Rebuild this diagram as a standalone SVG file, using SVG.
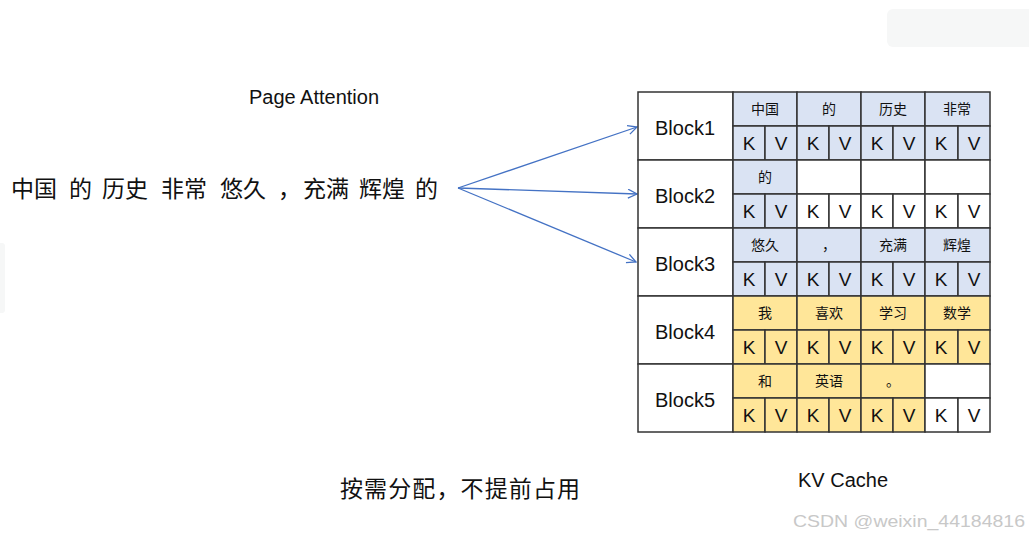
<svg xmlns="http://www.w3.org/2000/svg" width="1029" height="539" viewBox="0 0 1029 539">
<style>
.t{font-family:"Liberation Sans","Noto Sans CJK SC",sans-serif;fill:#111}
.cn{font-family:"Noto Sans CJK SC",sans-serif;fill:#111}
.c{stroke:#333;stroke-width:1.5}
.b{fill:#dae3f3}
.y{fill:#ffe699}
.w{fill:#fff}
.lbl{font-size:20px;text-anchor:middle}
.tok{font-size:14px;text-anchor:middle}
.kv{font-size:19px;text-anchor:middle}
.ar{fill:none;stroke:#4472c4;stroke-width:1.3}
</style>
<defs>
<marker id="ah" markerWidth="12" markerHeight="12" refX="10" refY="5" orient="auto" markerUnits="userSpaceOnUse">
<path d="M1,0.5 L10,5 L1,9.5" fill="none" stroke="#4472c4" stroke-width="1.3"/>
</marker>
</defs>
<rect width="1029" height="539" fill="#fff"/>
<rect x="887" y="9" width="150" height="38" rx="6" fill="#f6f7f7"/>
<rect x="-6" y="243" width="11" height="70" rx="3" fill="#f6f7f7"/>

<text class="t" x="314" y="104" font-size="20" text-anchor="middle">Page Attention</text>
<text class="cn" y="197" font-size="23"><tspan x="11">中国</tspan><tspan x="69">的</tspan><tspan x="102">历史</tspan><tspan x="161">非常</tspan><tspan x="220">悠久</tspan><tspan x="278">，</tspan><tspan x="303">充满</tspan><tspan x="359">辉煌</tspan><tspan x="415">的</tspan></text>
<text class="cn" x="340" y="497" font-size="23" textLength="240" lengthAdjust="spacing">按需分配，不提前占用</text>
<text class="t" x="843" y="487" font-size="20" text-anchor="middle">KV Cache</text>
<text x="793" y="527" font-family="'Liberation Sans Narrow','Liberation Sans',sans-serif" font-size="17" fill="#c8c8c8" textLength="232" lengthAdjust="spacingAndGlyphs">CSDN @weixin_44184816</text>

<g id="connectors">
<line class="ar" x1="458" y1="188" x2="637" y2="127" marker-end="url(#ah)"/>
<line class="ar" x1="458" y1="188" x2="637" y2="194" marker-end="url(#ah)"/>
<line class="ar" x1="458" y1="188" x2="636" y2="262" marker-end="url(#ah)"/>
</g>

<g id="block1">
<rect class="c w" x="638" y="92" width="95" height="68"/>
<text class="t lbl" x="685" y="135">Block1</text>
<rect class="c b" x="733" y="92" width="64" height="34"/><text class="cn tok" x="765" y="114">中国</text>
<rect class="c b" x="797" y="92" width="64" height="34"/><text class="cn tok" x="829" y="114">的</text>
<rect class="c b" x="861" y="92" width="64" height="34"/><text class="cn tok" x="893" y="114">历史</text>
<rect class="c b" x="925" y="92" width="65" height="34"/><text class="cn tok" x="957" y="114">非常</text>
<rect class="c b" x="733" y="126" width="32" height="34"/><text class="t kv" x="749" y="150">K</text>
<rect class="c b" x="765" y="126" width="32" height="34"/><text class="t kv" x="781" y="150">V</text>
<rect class="c b" x="797" y="126" width="32" height="34"/><text class="t kv" x="813" y="150">K</text>
<rect class="c b" x="829" y="126" width="32" height="34"/><text class="t kv" x="845" y="150">V</text>
<rect class="c b" x="861" y="126" width="32" height="34"/><text class="t kv" x="877" y="150">K</text>
<rect class="c b" x="893" y="126" width="32" height="34"/><text class="t kv" x="909" y="150">V</text>
<rect class="c b" x="925" y="126" width="33" height="34"/><text class="t kv" x="941" y="150">K</text>
<rect class="c b" x="958" y="126" width="32" height="34"/><text class="t kv" x="974" y="150">V</text>
</g>

<g id="block2">
<rect class="c w" x="638" y="160" width="95" height="68"/>
<text class="t lbl" x="685" y="203">Block2</text>
<rect class="c b" x="733" y="160" width="64" height="34"/><text class="cn tok" x="765" y="182">的</text>
<rect class="c w" x="797" y="160" width="64" height="34"/>
<rect class="c w" x="861" y="160" width="64" height="34"/>
<rect class="c w" x="925" y="160" width="65" height="34"/>
<rect class="c b" x="733" y="194" width="32" height="34"/><text class="t kv" x="749" y="218">K</text>
<rect class="c b" x="765" y="194" width="32" height="34"/><text class="t kv" x="781" y="218">V</text>
<rect class="c w" x="797" y="194" width="32" height="34"/><text class="t kv" x="813" y="218">K</text>
<rect class="c w" x="829" y="194" width="32" height="34"/><text class="t kv" x="845" y="218">V</text>
<rect class="c w" x="861" y="194" width="32" height="34"/><text class="t kv" x="877" y="218">K</text>
<rect class="c w" x="893" y="194" width="32" height="34"/><text class="t kv" x="909" y="218">V</text>
<rect class="c w" x="925" y="194" width="33" height="34"/><text class="t kv" x="941" y="218">K</text>
<rect class="c w" x="958" y="194" width="32" height="34"/><text class="t kv" x="974" y="218">V</text>
</g>

<g id="block3">
<rect class="c w" x="638" y="228" width="95" height="68"/>
<text class="t lbl" x="685" y="271">Block3</text>
<rect class="c b" x="733" y="228" width="64" height="34"/><text class="cn tok" x="765" y="250">悠久</text>
<rect class="c b" x="797" y="228" width="64" height="34"/><text class="cn tok" x="829" y="250">，</text>
<rect class="c b" x="861" y="228" width="64" height="34"/><text class="cn tok" x="893" y="250">充满</text>
<rect class="c b" x="925" y="228" width="65" height="34"/><text class="cn tok" x="957" y="250">辉煌</text>
<rect class="c b" x="733" y="262" width="32" height="34"/><text class="t kv" x="749" y="286">K</text>
<rect class="c b" x="765" y="262" width="32" height="34"/><text class="t kv" x="781" y="286">V</text>
<rect class="c b" x="797" y="262" width="32" height="34"/><text class="t kv" x="813" y="286">K</text>
<rect class="c b" x="829" y="262" width="32" height="34"/><text class="t kv" x="845" y="286">V</text>
<rect class="c b" x="861" y="262" width="32" height="34"/><text class="t kv" x="877" y="286">K</text>
<rect class="c b" x="893" y="262" width="32" height="34"/><text class="t kv" x="909" y="286">V</text>
<rect class="c b" x="925" y="262" width="33" height="34"/><text class="t kv" x="941" y="286">K</text>
<rect class="c b" x="958" y="262" width="32" height="34"/><text class="t kv" x="974" y="286">V</text>
</g>

<g id="block4">
<rect class="c w" x="638" y="296" width="95" height="68"/>
<text class="t lbl" x="685" y="339">Block4</text>
<rect class="c y" x="733" y="296" width="64" height="34"/><text class="cn tok" x="765" y="318">我</text>
<rect class="c y" x="797" y="296" width="64" height="34"/><text class="cn tok" x="829" y="318">喜欢</text>
<rect class="c y" x="861" y="296" width="64" height="34"/><text class="cn tok" x="893" y="318">学习</text>
<rect class="c y" x="925" y="296" width="65" height="34"/><text class="cn tok" x="957" y="318">数学</text>
<rect class="c y" x="733" y="330" width="32" height="34"/><text class="t kv" x="749" y="354">K</text>
<rect class="c y" x="765" y="330" width="32" height="34"/><text class="t kv" x="781" y="354">V</text>
<rect class="c y" x="797" y="330" width="32" height="34"/><text class="t kv" x="813" y="354">K</text>
<rect class="c y" x="829" y="330" width="32" height="34"/><text class="t kv" x="845" y="354">V</text>
<rect class="c y" x="861" y="330" width="32" height="34"/><text class="t kv" x="877" y="354">K</text>
<rect class="c y" x="893" y="330" width="32" height="34"/><text class="t kv" x="909" y="354">V</text>
<rect class="c y" x="925" y="330" width="33" height="34"/><text class="t kv" x="941" y="354">K</text>
<rect class="c y" x="958" y="330" width="32" height="34"/><text class="t kv" x="974" y="354">V</text>
</g>

<g id="block5">
<rect class="c w" x="638" y="364" width="95" height="68"/>
<text class="t lbl" x="685" y="407">Block5</text>
<rect class="c y" x="733" y="364" width="64" height="34"/><text class="cn tok" x="765" y="386">和</text>
<rect class="c y" x="797" y="364" width="64" height="34"/><text class="cn tok" x="829" y="386">英语</text>
<rect class="c y" x="861" y="364" width="64" height="34"/><text class="cn tok" x="893" y="386">。</text>
<rect class="c w" x="925" y="364" width="65" height="34"/>
<rect class="c y" x="733" y="398" width="32" height="34"/><text class="t kv" x="749" y="422">K</text>
<rect class="c y" x="765" y="398" width="32" height="34"/><text class="t kv" x="781" y="422">V</text>
<rect class="c y" x="797" y="398" width="32" height="34"/><text class="t kv" x="813" y="422">K</text>
<rect class="c y" x="829" y="398" width="32" height="34"/><text class="t kv" x="845" y="422">V</text>
<rect class="c y" x="861" y="398" width="32" height="34"/><text class="t kv" x="877" y="422">K</text>
<rect class="c y" x="893" y="398" width="32" height="34"/><text class="t kv" x="909" y="422">V</text>
<rect class="c w" x="925" y="398" width="33" height="34"/><text class="t kv" x="941" y="422">K</text>
<rect class="c w" x="958" y="398" width="32" height="34"/><text class="t kv" x="974" y="422">V</text>
</g>
</svg>
